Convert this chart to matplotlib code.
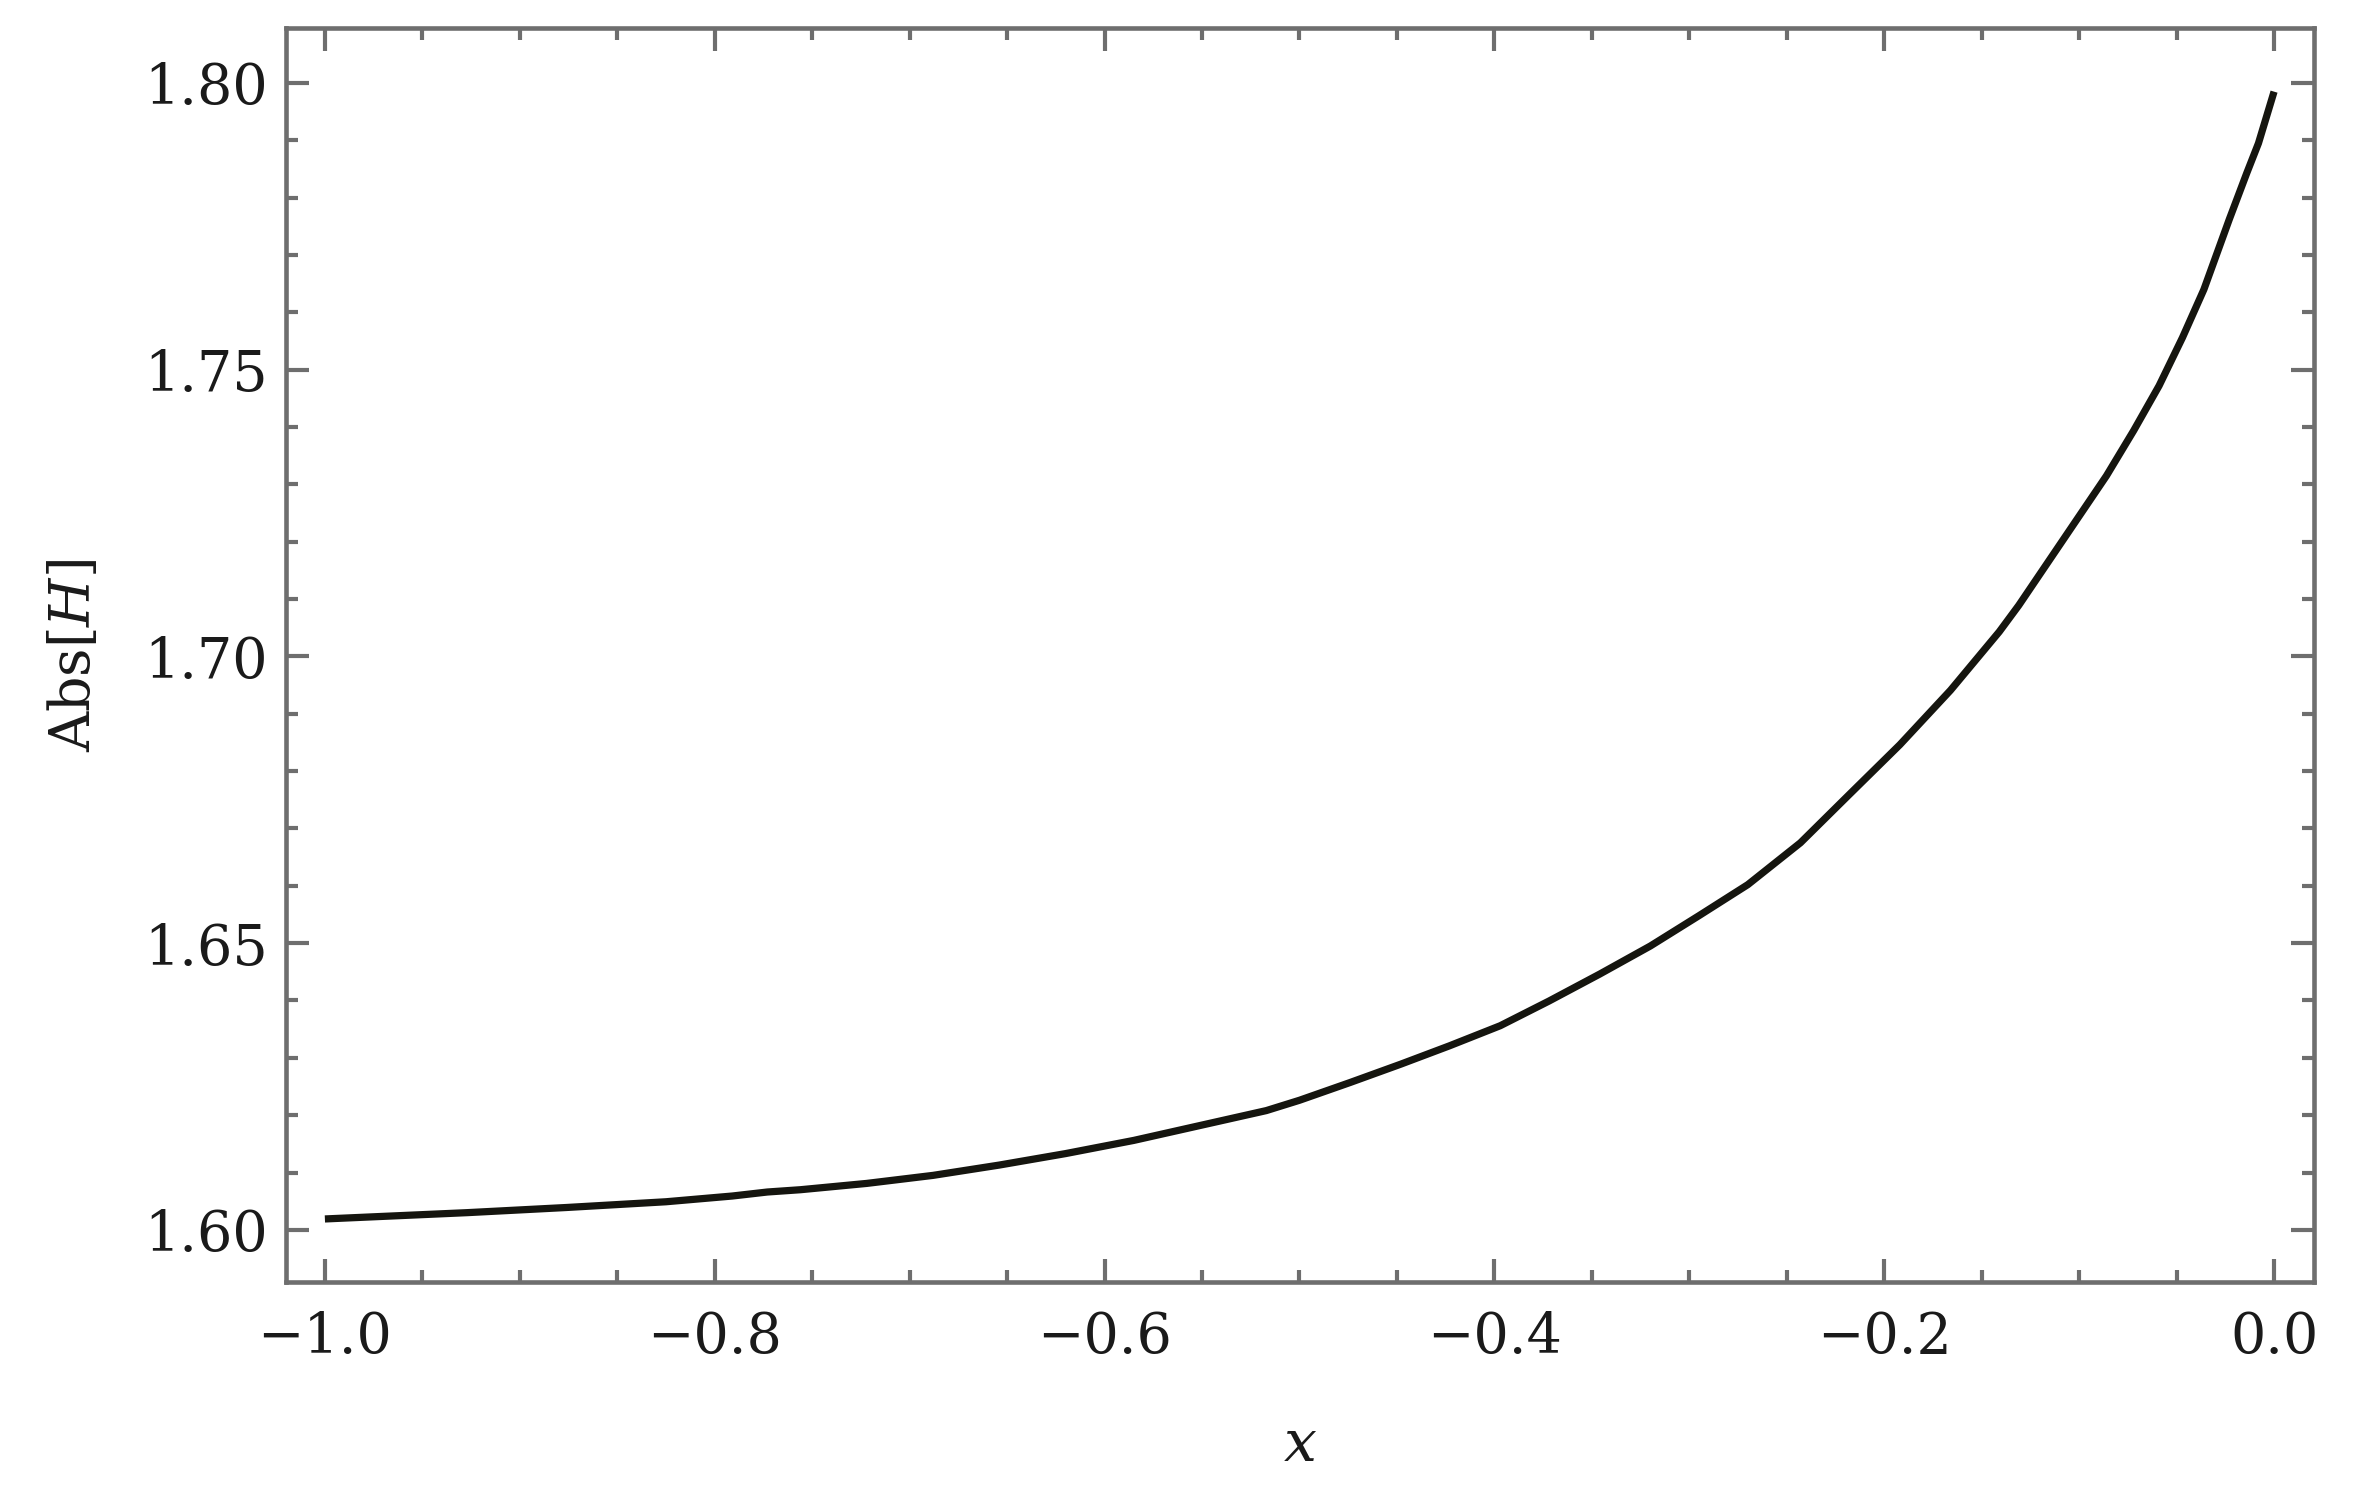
"""Abs[H] versus x, Mathematica-style framed plot."""

import matplotlib

matplotlib.use("Agg")
import matplotlib.pyplot as plt
from matplotlib.ticker import MultipleLocator, FormatStrFormatter

# values
x_vals = [-1.0, -0.927, -0.876, -0.825, -0.791, -0.773, -0.756, -0.722,
          -0.688, -0.654, -0.620, -0.585, -0.551, -0.517, -0.500, -0.474,
          -0.448, -0.423, -0.397, -0.372, -0.346, -0.320, -0.295, -0.270,
          -0.243, -0.218, -0.192, -0.166, -0.141, -0.131, -0.086, -0.072,
          -0.059, -0.047, -0.036, -0.023, -0.014, -0.008, 0.0]
abs_h = [1.6019, 1.6030, 1.6039, 1.6049, 1.6059, 1.6066, 1.6070, 1.6081,
         1.6095, 1.6113, 1.6133, 1.6156, 1.6182, 1.6208, 1.6226, 1.6257,
         1.6289, 1.6321, 1.6356, 1.6399, 1.6446, 1.6495, 1.6548, 1.6602,
         1.6675, 1.6759, 1.6846, 1.6941, 1.7043, 1.7089, 1.7315, 1.7394,
         1.7472, 1.7556, 1.7640, 1.7762, 1.7843, 1.7895, 1.7985]

x_major = [-1.0, -0.8, -0.6, -0.4, -0.2, 0.0]
y_major = [1.60, 1.65, 1.70, 1.75, 1.80]

frame_gray = "#6e6e6e"

plt.rcParams["font.family"] = ["DejaVu Serif"]
plt.rcParams["mathtext.fontset"] = "dejavuserif"

fig = plt.figure(figsize=(23.61, 14.97), dpi=100, facecolor="white")
ax = fig.add_axes([0.1211, 0.1436, 0.8590, 0.8377])

ax.plot(x_vals, abs_h, color="#15150f", linewidth=5.2,
        solid_joinstyle="round", solid_capstyle="butt")

ax.set_xlim(-1.02, 0.0205)
ax.set_ylim(1.5909, 1.8096)
ax.set_xticks(x_major)
ax.set_yticks(y_major)
ax.xaxis.set_minor_locator(MultipleLocator(0.05))
ax.yaxis.set_minor_locator(MultipleLocator(0.01))
ax.xaxis.set_major_formatter(FormatStrFormatter("%.1f"))
ax.yaxis.set_major_formatter(FormatStrFormatter("%.2f"))

for side in ax.spines.values():
    side.set_color(frame_gray)
    side.set_linewidth(3.3)

ax.tick_params(which="both", direction="in", top=True, right=True,
               color=frame_gray, width=3.0, labelsize=40, labelcolor="#1a1a1a")
ax.tick_params(which="major", length=16.5)
ax.tick_params(which="minor", length=8.6)
ax.tick_params(axis="x", which="major", pad=20)
ax.tick_params(axis="y", which="major", pad=13)

# Mathematica renders the minus sign as a long dash
ax.set_xticklabels([f"\u2212{abs(v):.1f}" if v < 0 else f"{v:.1f}" for v in x_major])

ax.set_xlabel(r"$x$", fontsize=42, labelpad=38, color="#1a1a1a")
ax.set_ylabel(r"$\mathrm{Abs}[H]$", fontsize=40, labelpad=30, color="#1a1a1a")

fig.savefig("out.png", dpi=100, facecolor="white")
